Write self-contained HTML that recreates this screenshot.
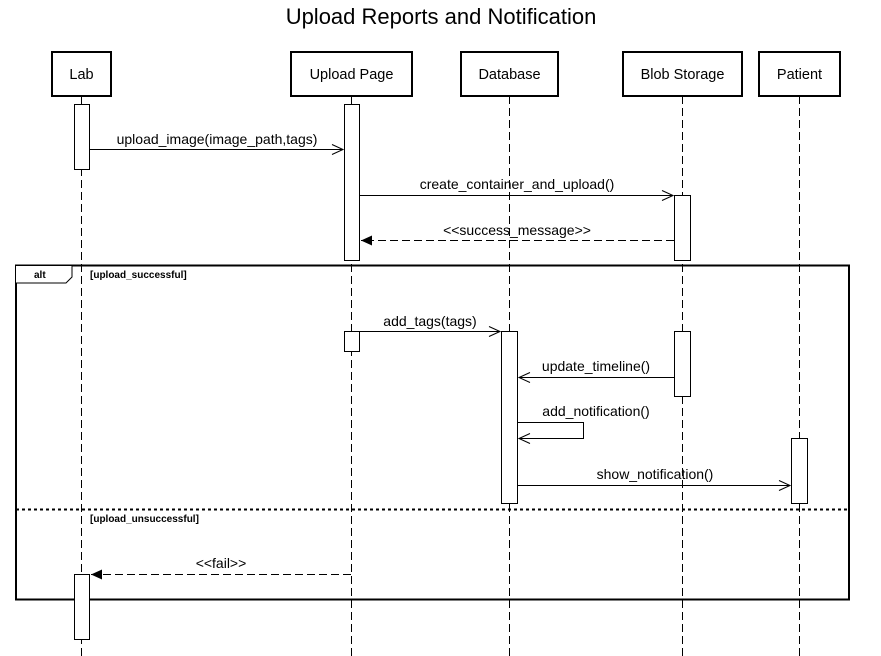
<!DOCTYPE html>
<html><head><meta charset="utf-8"><style>html,body{margin:0;padding:0;background:#fff}svg{display:block}text{font-family:"Liberation Sans",Arial,sans-serif;fill:#000}</style></head><body>
<svg width="881" height="656" viewBox="0 0 881 656" xmlns="http://www.w3.org/2000/svg">
<defs>
<marker id="open" markerWidth="14" markerHeight="12" refX="12" refY="6" orient="auto" markerUnits="userSpaceOnUse"><path d="M1,1 L12,6 L1,11" fill="none" stroke="#000" stroke-width="1"/></marker>
<marker id="fill" markerWidth="14" markerHeight="12" refX="12" refY="6" orient="auto" markerUnits="userSpaceOnUse"><path d="M1,1 L12,6 L1,11 Z" fill="#000"/></marker>
</defs>
<text x="441" y="24" font-size="22" text-anchor="middle">Upload Reports and Notification</text>
<g stroke="#000" stroke-width="1" stroke-dasharray="8,4" fill="none">
<line x1="81.5" y1="96" x2="81.5" y2="656"/>
<line x1="351.5" y1="96" x2="351.5" y2="656"/>
<line x1="509.5" y1="96" x2="509.5" y2="656"/>
<line x1="682.5" y1="96" x2="682.5" y2="656"/>
<line x1="799.5" y1="96" x2="799.5" y2="656"/>
</g>
<g stroke="#000" stroke-width="2" fill="#fff">
<rect x="52" y="52" width="59" height="44"/>
<rect x="291" y="52" width="121" height="44"/>
<rect x="461" y="52" width="97" height="44"/>
<rect x="623" y="52" width="119" height="44"/>
<rect x="759" y="52" width="81" height="44"/>
</g>
<g font-size="14.5" text-anchor="middle">
<text x="81.5" y="79">Lab</text>
<text x="351.5" y="79">Upload Page</text>
<text x="509.5" y="79">Database</text>
<text x="682.5" y="79">Blob Storage</text>
<text x="799.5" y="79">Patient</text>
</g>
<rect x="16" y="265.5" width="833" height="334" fill="none" stroke="#000" stroke-width="2"/>
<path d="M16,265.5 H72 V277 L66,283 H16" fill="#fff" stroke="#000" stroke-width="1"/>
<text x="34" y="278" font-size="10" font-weight="bold">alt</text>
<text x="90" y="278" font-size="10" font-weight="bold">[upload_successful]</text>
<line x1="16" y1="509.5" x2="849" y2="509.5" stroke="#000" stroke-width="2" stroke-dasharray="3,3"/>
<text x="90" y="522" font-size="10" font-weight="bold">[upload_unsuccessful]</text>
<g stroke="#000" stroke-width="1" fill="#fff">
<rect x="74.5" y="104.5" width="15" height="65"/>
<rect x="344.5" y="104.5" width="15" height="156"/>
<rect x="674.5" y="195.5" width="16" height="65"/>
<rect x="344.5" y="331.5" width="15" height="20"/>
<rect x="501.5" y="331.5" width="16" height="172"/>
<rect x="674.5" y="331.5" width="16" height="65"/>
<rect x="791.5" y="438.5" width="16" height="65"/>
<rect x="74.5" y="574.5" width="15" height="65"/>
</g>
<g stroke="#000" stroke-width="1" fill="none">
<line x1="89.5" y1="149.5" x2="343" y2="149.5" marker-end="url(#open)"/>
<line x1="359.5" y1="195.5" x2="673" y2="195.5" marker-end="url(#open)"/>
<line x1="674" y1="240.5" x2="361" y2="240.5" stroke-dasharray="8,4" marker-end="url(#fill)"/>
<line x1="359.5" y1="331.5" x2="500" y2="331.5" marker-end="url(#open)"/>
<line x1="674" y1="377.5" x2="519" y2="377.5" marker-end="url(#open)"/>
<path d="M517.5,422.5 H583.5 V438.5 H519" marker-end="url(#open)"/>
<line x1="517.5" y1="485.5" x2="790" y2="485.5" marker-end="url(#open)"/>
<line x1="351" y1="574.5" x2="91" y2="574.5" stroke-dasharray="8,4" marker-end="url(#fill)"/>
</g>
<g font-size="14" text-anchor="middle">
<text x="217" y="144">upload_image(image_path,tags)</text>
<text x="517" y="189">create_container_and_upload()</text>
<text x="517" y="235">&lt;&lt;success_message&gt;&gt;</text>
<text x="430" y="326">add_tags(tags)</text>
<text x="596" y="371">update_timeline()</text>
<text x="596" y="416">add_notification()</text>
<text x="655" y="479">show_notification()</text>
<text x="221" y="568">&lt;&lt;fail&gt;&gt;</text>
</g>
</svg>
</body></html>
